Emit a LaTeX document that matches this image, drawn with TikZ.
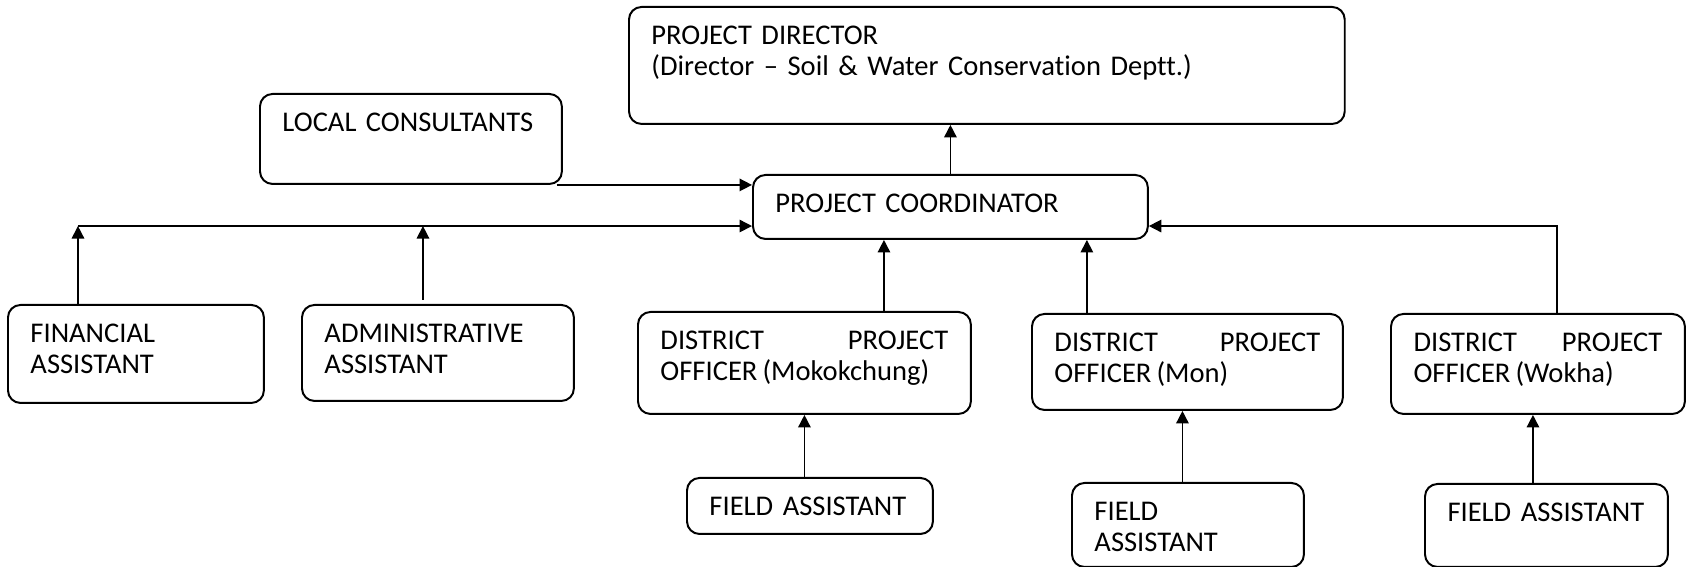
\documentclass[tikz,border=0pt]{standalone}
\usepackage{fontspec}
\setmainfont{Carlito}[Ligatures=NoCommon, WordSpace=0.8]
\usepackage{tikz}
\usetikzlibrary{arrows.meta}
\hyphenpenalty=10000
\tolerance=10000
\hbadness=10000

\tikzset{
  box/.style={draw, line width=0.9pt, rounded corners=0.2cm, anchor=north west,
              inner xsep=0.36cm, inner ysep=0pt, text height=0.6cm,
              align=left, font=\fontsize{13}{14}\selectfont},
  jbox/.style={box, align=justify},
  arr/.style={-{Triangle[length=0.2cm,width=0.2cm]}, line width=0.7pt}
}

\begin{document}
\begin{tikzpicture}[x=0.016cm, y=-0.016cm]
            \useasboundingbox (0,0) rectangle (1687,567);
            \node[box,  text width=10.736cm, text depth=1.272cm] (pd)    at ( 628,   6) {PROJECT DIRECTOR\\(Director – Soil \& Water Conservation Deptt.)};
            \node[box,  text width=4.112cm,  text depth=0.840cm] (lc)    at ( 259,  93) {\mbox{LOCAL CONSULTANTS}};
            \node[box,  text width=5.600cm,  text depth=0.424cm] (coord) at ( 752, 174) {PROJECT COORDINATOR};
            \node[box,  text width=3.376cm,  text depth=0.968cm] (fin)   at (   7, 304) {FINANCIAL\\ASSISTANT};
            \node[box,  text width=3.632cm,  text depth=0.936cm] (adm)   at ( 301, 304) {ADMINISTRATIVE\\ASSISTANT};
            \node[jbox, text width=4.608cm,  text depth=1.032cm] (dpo1)  at ( 637, 311) {DISTRICT PROJECT OFFICER (Mokokchung)};
            \node[jbox, text width=4.256cm,  text depth=0.936cm] (dpo2)  at (1031, 313) {DISTRICT PROJECT OFFICER (Mon)};
            \node[jbox, text width=3.984cm,  text depth=1.000cm] (dpo3)  at (1390, 313) {DISTRICT PROJECT OFFICER (Wokha)};
            \node[box,  text width=3.216cm,  text depth=0.296cm] (fa1)   at ( 686, 477) {\mbox{FIELD ASSISTANT}};
            \node[box,  text width=2.992cm,  text depth=0.744cm] (fa2)   at (1071, 482) {FIELD\\ASSISTANT};
            \node[box,  text width=3.168cm,  text depth=0.728cm] (fa3)   at (1424, 483) {\mbox{FIELD ASSISTANT}};

            % bus line and tap points
            \coordinate (bus)    at ([xshift=1.136cm, yshift=1.248cm]fin.north west);
            \coordinate (admtop) at ([xshift=1.952cm, yshift=0.064cm]adm.north west);
            \coordinate (c1)     at ([xshift=2.112cm]coord.south west);
            \coordinate (c2)     at ([xshift=5.360cm]coord.south west);
            \coordinate (f2)     at ([xshift=-0.08cm]dpo2.south);
            \coordinate (f3)     at ([xshift=-0.08cm]dpo3.south);

            \draw[arr] (coord.north) -- (coord.north |- pd.south);
            \draw[arr] ([xshift=-0.1cm]lc.south east) -- (coord.west |- lc.south);
            \draw[arr] (bus |- fin.north) -- (bus);
            \draw[arr] (bus) -- (coord.west |- bus);
            \draw[arr] (admtop) -- (admtop |- bus);
            \draw[arr] (c1 |- dpo1.north) -- (c1);
            \draw[arr] (c2 |- dpo2.north) -- (c2);
            \draw[arr] ([xshift=2.672cm]dpo3.north west) |- (coord.east |- bus);
            \draw[arr] (dpo1.south |- fa1.north) -- (dpo1.south);
            \draw[arr] (f2 |- fa2.north) -- (f2);
            \draw[arr] (f3 |- fa3.north) -- (f3);
        \end{tikzpicture}
\end{document}
